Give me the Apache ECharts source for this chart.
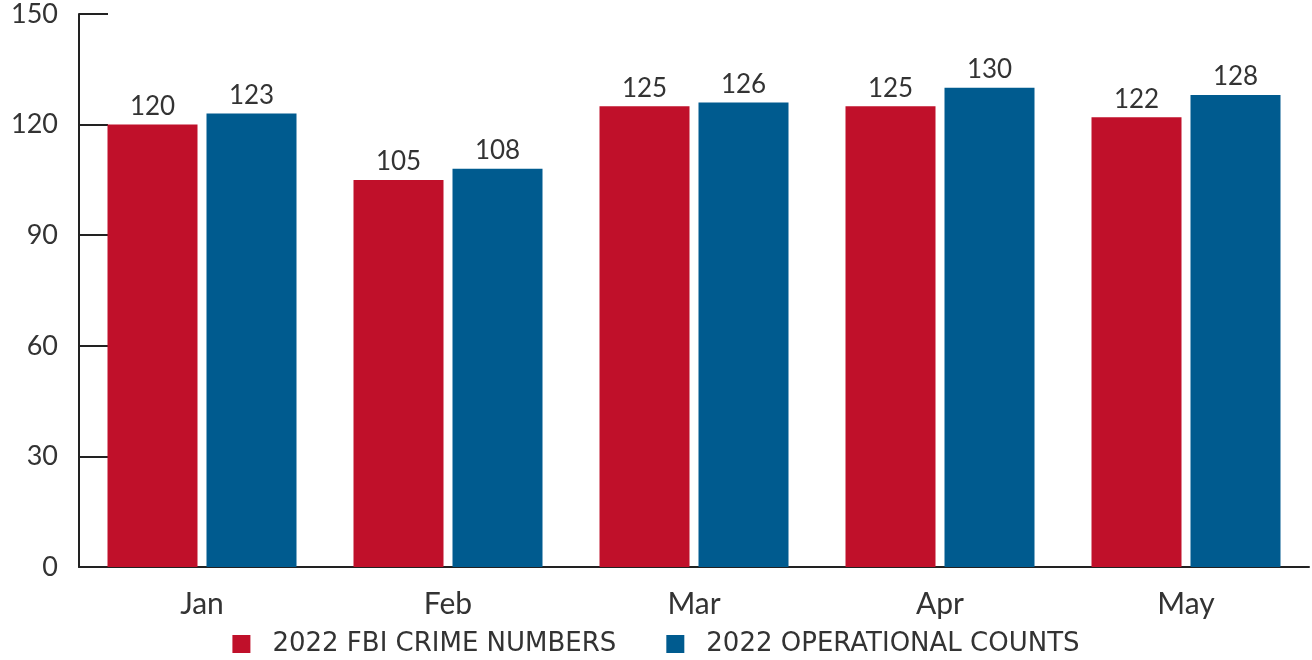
<!DOCTYPE html>
<html>
<head>
<meta charset="utf-8">
<style>
  html, body { margin: 0; padding: 0; background: #fff; }
  #main { width: 1312px; height: 660px; }
</style>
<script src="https://cdn.jsdelivr.net/npm/echarts@6/dist/echarts.min.js"></script>
</head>
<body>
<div id="main"></div>
<script>
var months = ['Jan', 'Feb', 'Mar', 'Apr', 'May'];
var fbiCrime = [120, 105, 125, 125, 122];
var operational = [123, 108, 126, 130, 128];

var chart = echarts.init(document.getElementById('main'));
var font = 'Lato';

var option = {
    animation: false,
    textStyle: { fontFamily: font },
    grid: { left: 79, right: 3, top: 14, bottom: 93 },
    legend: {
        bottom: -2,
        left: 'center',
        itemWidth: 18,
        itemHeight: 18,
        itemGap: 50,
        icon: 'rect',
        textStyle: { fontSize: 26, color: '#333', fontFamily: 'DejaVu Sans', padding: [0, 0, 0, 17] },
        data: ['2022 FBI CRIME NUMBERS', '2022 OPERATIONAL COUNTS']
    },
    xAxis: {
        type: 'category',
        data: months,
        axisLine: { lineStyle: { color: '#222', width: 2 } },
        axisTick: { inside: true, length: 14, lineStyle: { color: '#222', width: 2 } },
        axisLabel: { fontSize: 30, color: '#333', margin: 22 }
    },
    yAxis: {
        type: 'value',
        min: 0,
        max: 150,
        interval: 30,
        splitLine: { show: false },
        axisLine: { show: true, lineStyle: { color: '#222', width: 2 } },
        axisTick: { show: true, inside: true, length: 29, lineStyle: { color: '#222', width: 2 } },
        axisLabel: { fontSize: 27, color: '#333', margin: 21 }
    },
    series: [
        {
            name: '2022 FBI CRIME NUMBERS',
            type: 'bar',
            data: fbiCrime,
            barWidth: 90,
            barGap: '10%',
            itemStyle: { color: '#C0102A' },
            label: { show: true, position: 'top', distance: 5, fontSize: 26, color: '#333' }
        },
        {
            name: '2022 OPERATIONAL COUNTS',
            type: 'bar',
            data: operational,
            barWidth: 90,
            barGap: '10%',
            itemStyle: { color: '#005B8F' },
            label: { show: true, position: 'top', distance: 5, fontSize: 26, color: '#333' }
        }
    ]
};

option && chart.setOption(option);
</script>
</body>
</html>
